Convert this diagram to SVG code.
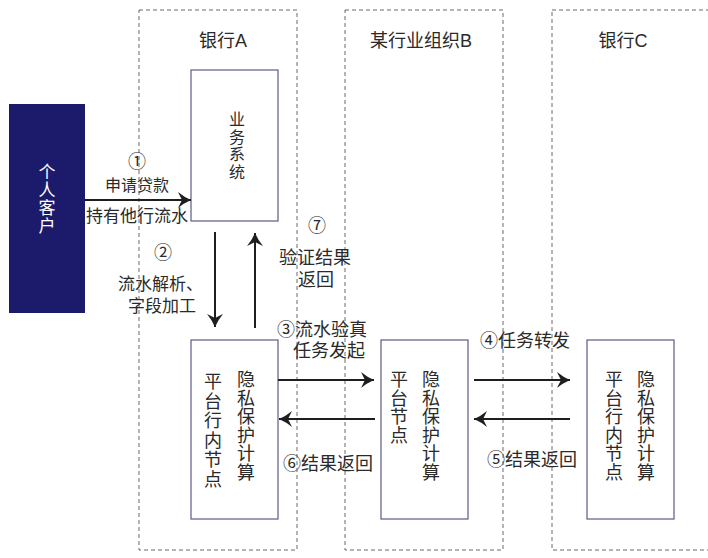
<svg xmlns="http://www.w3.org/2000/svg" width="708" height="558" viewBox="0 0 708 558">
<style>
text{font-family:"Liberation Sans","Noto Sans CJK SC",sans-serif;fill:#2a2a2a;}
.zone{fill:none;stroke:#6a6a6a;stroke-width:1;stroke-dasharray:4 3;}
.node{fill:#ffffff;stroke:#5b5b86;stroke-width:1.2;}
.t16{font-size:16px;}
.t18{font-size:18px;}
.num{font-size:18px;text-anchor:middle;font-family:"Noto Sans CJK SC",sans-serif;}
.vt{font-size:18px;text-anchor:middle;}
.mid{text-anchor:middle;}
.conn line{stroke:#1e1e1e;stroke-width:2;}
</style>
<defs>
<marker id="ah" markerUnits="userSpaceOnUse" markerWidth="16" markerHeight="18" refX="14" refY="8" orient="auto" viewBox="0 0 16 16">
<path d="M14,8 Q7,5 1,0 L5,8 L1,16 Q7,11 14,8 Z" fill="#1e1e1e"/>
</marker>
</defs>
<rect width="708" height="558" fill="#ffffff"/>
<g id="zoneA"><rect class="zone" x="139" y="10" width="158" height="540"/><text class="t18 mid" x="223" y="47">银行A</text></g>
<g id="zoneB"><rect class="zone" x="345" y="10" width="158" height="540"/><text class="t18 mid" x="421" y="47">某行业组织B</text></g>
<g id="zoneC"><rect class="zone" x="552" y="10" width="170" height="540"/><text class="t18 mid" x="623" y="47">银行C</text></g>
<g id="customer"><rect x="9" y="104" width="76" height="209" fill="#1c1a6b"/>
<text class="vt" style="font-size:17px;fill:#ffffff" x="47" y="178"><tspan x="47">个</tspan><tspan x="47" dy="18">人</tspan><tspan x="47" dy="18">客</tspan><tspan x="47" dy="18">户</tspan></text></g>
<g id="business"><rect class="node" x="191" y="70" width="87" height="151"/>
<text class="vt" style="font-size:16px" x="237" y="125"><tspan x="237">业</tspan><tspan x="237" dy="17.5">务</tspan><tspan x="237" dy="17.5">系</tspan><tspan x="237" dy="17.5">统</tspan></text></g>
<g id="nodeA"><rect class="node" x="191" y="340" width="87" height="179"/>
<text class="vt" x="213" y="388"><tspan x="213">平</tspan><tspan x="213" dy="19.5">台</tspan><tspan x="213" dy="19.5">行</tspan><tspan x="213" dy="19.5">内</tspan><tspan x="213" dy="19.5">节</tspan><tspan x="213" dy="19.5">点</tspan></text>
<text class="vt" x="246" y="386"><tspan x="246">隐</tspan><tspan x="246" dy="18.5">私</tspan><tspan x="246" dy="18.5">保</tspan><tspan x="246" dy="18.5">护</tspan><tspan x="246" dy="18.5">计</tspan><tspan x="246" dy="18.5">算</tspan></text></g>
<g id="nodeB"><rect class="node" x="381" y="340" width="87" height="179"/>
<text class="vt" x="399" y="386"><tspan x="399">平</tspan><tspan x="399" dy="18.5">台</tspan><tspan x="399" dy="18.5">节</tspan><tspan x="399" dy="18.5">点</tspan></text>
<text class="vt" x="431" y="386"><tspan x="431">隐</tspan><tspan x="431" dy="18.5">私</tspan><tspan x="431" dy="18.5">保</tspan><tspan x="431" dy="18.5">护</tspan><tspan x="431" dy="18.5">计</tspan><tspan x="431" dy="18.5">算</tspan></text></g>
<g id="nodeC"><rect class="node" x="587" y="340" width="87" height="179"/>
<text class="vt" x="614" y="386"><tspan x="614">平</tspan><tspan x="614" dy="18.5">台</tspan><tspan x="614" dy="18.5">行</tspan><tspan x="614" dy="18.5">内</tspan><tspan x="614" dy="18.5">节</tspan><tspan x="614" dy="18.5">点</tspan></text>
<text class="vt" x="646" y="386"><tspan x="646">隐</tspan><tspan x="646" dy="18.5">私</tspan><tspan x="646" dy="18.5">保</tspan><tspan x="646" dy="18.5">护</tspan><tspan x="646" dy="18.5">计</tspan><tspan x="646" dy="18.5">算</tspan></text></g>
<g id="connectors" class="conn">
<line x1="85" y1="200" x2="191" y2="200" marker-end="url(#ah)"/>
<line x1="215" y1="232" x2="215" y2="327" marker-end="url(#ah)"/>
<line x1="255" y1="328" x2="255" y2="233" marker-end="url(#ah)"/>
<line x1="278" y1="380" x2="374" y2="380" marker-end="url(#ah)"/>
<line x1="375" y1="419" x2="279" y2="419" marker-end="url(#ah)"/>
<line x1="474" y1="380" x2="570" y2="380" marker-end="url(#ah)"/>
<line x1="570" y1="419" x2="474" y2="419" marker-end="url(#ah)"/>
</g>
<g id="labels">
<text class="num" x="137" y="168">①</text>
<text class="t16 mid" x="137" y="191">申请贷款</text>
<text class="t16 mid" x="137" y="222" style="font-size:17px">持有他行流水</text>
<text class="num" x="163" y="259">②</text>
<text class="t16" x="118" y="290" style="font-size:17px">流水解析、</text>
<text class="t16" x="128" y="312" style="font-size:17px">字段加工</text>
<text class="num" x="317" y="232">⑦</text>
<text class="t18" x="279" y="264">验证结果</text>
<text class="t18" x="298" y="286">返回</text>
<text class="t18" x="277" y="336"><tspan style="font-family:'Noto Sans CJK SC',sans-serif">③</tspan>流水验真</text>
<text class="t18" x="293" y="357">任务发起</text>
<text class="t18" x="283" y="470"><tspan style="font-family:'Noto Sans CJK SC',sans-serif">⑥</tspan>结果返回</text>
<text class="t18" x="480" y="347"><tspan style="font-family:'Noto Sans CJK SC',sans-serif">④</tspan>任务转发</text>
<text class="t18" x="487" y="466"><tspan style="font-family:'Noto Sans CJK SC',sans-serif">⑤</tspan>结果返回</text>
</g>
</svg>
